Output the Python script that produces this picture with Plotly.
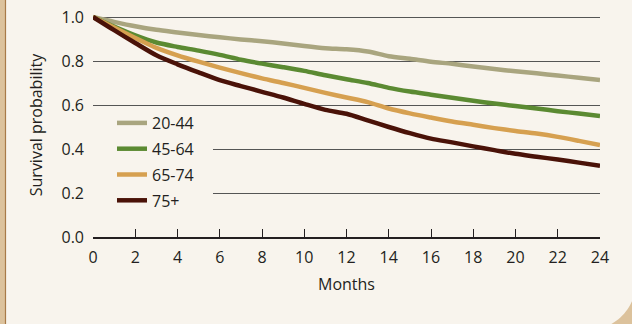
import plotly.graph_objects as go
import math

months = list(range(0, 25))
groups = ["20-44", "45-64", "65-74", "75+"]
s_20_44 = [1.0, 0.978, 0.958, 0.942, 0.930, 0.918, 0.908, 0.898, 0.890, 0.880, 0.868, 0.858, 0.853,
           0.843, 0.822, 0.810, 0.797, 0.787, 0.775, 0.764, 0.753, 0.744, 0.734, 0.724, 0.714]
s_45_64 = [1.0, 0.956, 0.916, 0.884, 0.864, 0.847, 0.828, 0.806, 0.788, 0.772, 0.755, 0.735, 0.717,
           0.700, 0.678, 0.661, 0.647, 0.633, 0.619, 0.607, 0.595, 0.584, 0.572, 0.561, 0.550]
s_65_74 = [1.0, 0.952, 0.905, 0.860, 0.826, 0.797, 0.770, 0.745, 0.721, 0.700, 0.678, 0.655, 0.634,
           0.613, 0.584, 0.562, 0.543, 0.525, 0.510, 0.495, 0.482, 0.470, 0.455, 0.437, 0.418]
s_75 = [1.0, 0.940, 0.882, 0.826, 0.785, 0.748, 0.713, 0.686, 0.660, 0.634, 0.605, 0.578, 0.560,
        0.530, 0.500, 0.472, 0.447, 0.430, 0.412, 0.395, 0.378, 0.365, 0.352, 0.338, 0.324]
series = [s_20_44, s_45_64, s_65_74, s_75]
colors = ["#a9a57f", "#5b8a32", "#d6a050", "#4a1208"]
x_ticks = list(range(0, 25, 2))
y_ticks = [0.0, 0.2, 0.4, 0.6, 0.8, 1.0]
y_tick_text = ["0.0", "0.2", "0.4", "0.6", "0.8", "1.0"]

W, H = 632, 324
L, R, T, B = 93, 32, 13, 87
pw, ph = W - L - R, H - T - B

def px(x):
    return (x - L) / pw

def py(y):
    return (H - B - y) / ph

bg = "#f8f4ed"
tan = "#dcc29c"
font = "Open Sans, Noto Sans, sans-serif"

fig = go.Figure()
for name, vals, col in zip(groups, series, colors):
    fig.add_trace(go.Scatter(x=months, y=vals, mode="lines", name=name, legendgroup=name,
                             line=dict(color=col, width=4.5, shape="spline", smoothing=0.8),
                             cliponaxis=False))

shapes = [
    dict(type="rect", xref="x", yref="y", x0=-0.05, x1=5.68, y0=0.05, y1=0.5,
         fillcolor=bg, line=dict(width=0), layer="between"),
    dict(type="rect", xref="paper", yref="paper", x0=px(0), x1=px(5), y0=py(H), y1=py(0),
         fillcolor=tan, line=dict(width=0), layer="above"),
    dict(type="line", xref="paper", yref="paper", x0=px(5.5), x1=px(5.5), y0=py(H), y1=py(0),
         line=dict(color="#a87a48", width=1.2), layer="above"),
]
cx, cy, r = 588, 282, 48
a0 = math.atan2(300 - cy, 632 - cx)
a1 = math.atan2(324 - cy, 612 - cx)
n = 12
path = "M %f,%f " % (px(633), py(298))
for i in range(n + 1):
    a = a0 + (a1 - a0) * i / n
    path += "L %f,%f " % (px(cx + r * math.cos(a)), py(cy + r * math.sin(a)))
path += "L %f,%f L %f,%f Z" % (px(610), py(325), px(633), py(325))
shapes.append(dict(type="path", xref="paper", yref="paper", path=path,
                   fillcolor=tan, line=dict(width=0), layer="above"))

fig.update_layout(
    width=W, height=H,
    margin=dict(l=L, r=R, t=T, b=B, autoexpand=False),
    paper_bgcolor=bg, plot_bgcolor=bg,
    font=dict(family=font, size=16, color="#231f20"),
    showlegend=True,
    legend=dict(x=px(112), y=py(106), xanchor="left", yanchor="top", bgcolor="rgba(0,0,0,0)",
                font=dict(size=16), tracegroupgap=2, traceorder="grouped",
                itemwidth=30),
    shapes=shapes,
    xaxis=dict(range=[0, 24], tickvals=x_ticks, ticks="inside", ticklen=8, tickwidth=1.2,
               tickcolor="#231f20", showgrid=False, zeroline=False, automargin=False,
               showline=True, linecolor="#231f20", linewidth=1.5,
               ticklabelstandoff=5,
               title=dict(text="Months", standoff=12, font=dict(size=16))),
    yaxis=dict(range=[0, ph / 220], tickvals=y_ticks, ticktext=y_tick_text, automargin=False,
               showgrid=True, gridcolor="#555555", gridwidth=1, zeroline=False,
               showline=False, ticks="", ticklabelstandoff=8,
               title=dict(text="Survival probability", standoff=14, font=dict(size=16))),
)

fig.write_html("out.html", config={"displayModeBar": False},
               post_script="document.body.style.margin='0';document.body.style.background='%s';" % bg)
